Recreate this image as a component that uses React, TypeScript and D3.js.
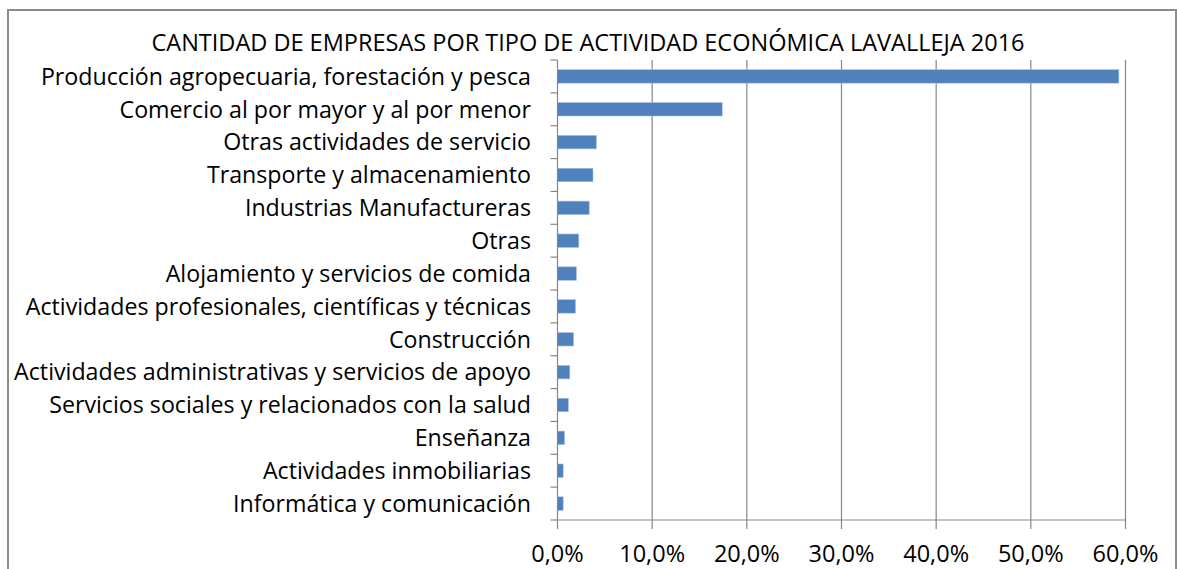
import React from "react";
import * as d3 from "d3";

const title = "CANTIDAD DE EMPRESAS POR TIPO DE ACTIVIDAD ECONÓMICA LAVALLEJA 2016";

const categories = [
  "Producción agropecuaria, forestación y pesca",
  "Comercio al por mayor y al por menor",
  "Otras actividades de servicio",
  "Transporte y almacenamiento",
  "Industrias Manufactureras",
  "Otras",
  "Alojamiento y servicios de comida",
  "Actividades profesionales, científicas y técnicas",
  "Construcción",
  "Actividades administrativas y servicios de apoyo",
  "Servicios sociales y relacionados con la salud",
  "Enseñanza",
  "Actividades inmobiliarias",
  "Informática y comunicación",
];

const values = [59.3, 17.4, 4.1, 3.75, 3.35, 2.25, 2.0, 1.9, 1.7, 1.3, 1.15, 0.75, 0.6, 0.6];

const xTicks = [0, 10, 20, 30, 40, 50, 60];

const W = 1177;
const H = 569;
const FONT = "'Open Sans', Lato, sans-serif";

export default function App() {
  const left = 557.5;
  const right = 1125.5;
  const top = 60;
  const bottom = 520;

  const x = d3.scaleLinear().domain([0, 60]).range([left, right]);
  const y = d3
    .scaleBand<string>()
    .domain(categories)
    .range([top, bottom])
    .paddingInner(0.59)
    .paddingOuter(0.295);
  const step = (bottom - top) / categories.length;
  const fmt = (v: number) => v.toFixed(1).replace(".", ",") + "%";
  const grey = "#878787";

  return (
    <svg
      width={W}
      height={H}
      style={{ position: "absolute", left: 0, top: 0, background: "#fff" }}
      fontFamily={FONT}
    >
      <rect x={8} y={10} width={1168} height={600} fill="#fff" stroke="#8c8c8c" strokeWidth={2} />
      <text x={588} y={51} textAnchor="middle" fontSize={23.5} fill="#000">
        {title}
      </text>
      {/* gridlines */}
      {xTicks.slice(1).map((t) => (
        <line key={t} x1={x(t)} x2={x(t)} y1={top} y2={bottom} stroke={grey} strokeWidth={1.2} />
      ))}
      {/* bars */}
      {categories.map((c, i) => (
        <rect
          key={c}
          x={x(0)}
          y={y(c)}
          width={x(values[i]) - x(0)}
          height={y.bandwidth()}
          fill="#4f81bd"
          stroke="#a9c1e0"
          strokeWidth={0.6}
        />
      ))}
      {/* y axis */}
      <line x1={left} x2={left} y1={top} y2={bottom} stroke={grey} strokeWidth={1.2} />
      {d3.range(categories.length + 1).map((i) => (
        <line
          key={i}
          x1={left - 7}
          x2={left}
          y1={top + i * step}
          y2={top + i * step}
          stroke={grey}
          strokeWidth={1.2}
        />
      ))}
      {categories.map((c) => (
        <text
          key={c}
          x={531}
          y={(y(c) as number) + y.bandwidth() / 2}
          dy="0.36em"
          textAnchor="end"
          fontSize={23.2}
          fill="#000"
        >
          {c}
        </text>
      ))}
      {/* x axis */}
      <line x1={left} x2={right} y1={bottom} y2={bottom} stroke={grey} strokeWidth={1.2} />
      {xTicks.map((t) => (
        <g key={t}>
          <line x1={x(t)} x2={x(t)} y1={bottom} y2={bottom + 9} stroke={grey} strokeWidth={1.2} />
          <text x={x(t)} y={562} textAnchor="middle" fontSize={23.5} fill="#000">
            {fmt(t)}
          </text>
        </g>
      ))}
    </svg>
  );
}
